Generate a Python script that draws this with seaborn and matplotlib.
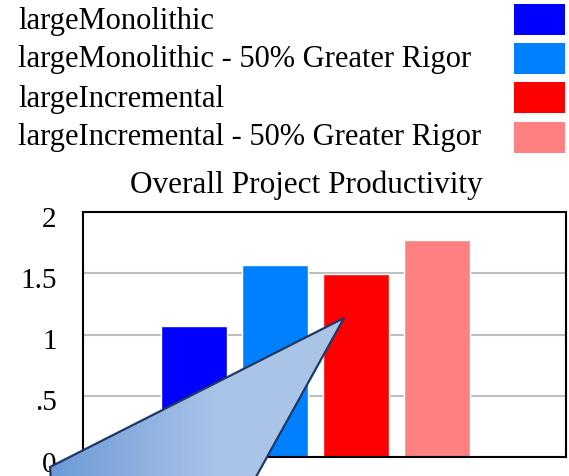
import numpy as np
import pandas as pd
import matplotlib
matplotlib.use("Agg")
import matplotlib.pyplot as plt
from matplotlib.patches import Polygon, Rectangle
from matplotlib.transforms import ScaledTranslation
import seaborn as sns

# Scenario runs and their overall productivity
series = [
    "largeMonolithic",
    "largeMonolithic - 50% Greater Rigor",
    "largeIncremental",
    "largeIncremental - 50% Greater Rigor",
]
productivity = [1.07, 1.57, 1.49, 1.77]
colors = ["#0000ff", "#0080ff", "#ff0000", "#ff8080"]
y_ticks = [0, 0.5, 1, 1.5, 2]
y_tick_labels = ["0", ".5", "1", "1.5", "2"]
title = "Overall Project Productivity"

sns.set_theme(style="white")
plt.rcParams["font.family"] = ["Liberation Serif", "DejaVu Serif"]

W, H = 569, 476
fig = plt.figure(figsize=(W / 100, H / 100), dpi=100)


def fx(px):
    return px / W


def fy(py):
    return 1 - py / H


# Main bar panel
ax = fig.add_axes([fx(83), fy(457), (566 - 83) / W, (457 - 212) / H])
df = pd.DataFrame({"series": series, "productivity": productivity})
sns.barplot(data=df, x="series", y="productivity", hue="series",
            palette=colors, width=0.81, saturation=1, legend=False, ax=ax)
ax.set_xlim(-1.37, 4.59)
ax.set_ylim(0, 2)
ax.set_yticks(y_ticks, y_tick_labels)
ax.set_xticks([])
ax.set_xlabel("")
ax.set_ylabel("")
ax.yaxis.grid(True, color="#bfbfbf", lw=1.5)
ax.set_axisbelow(True)
for s in ax.spines.values():
    s.set_visible(True)
    s.set_color("black")
    s.set_linewidth(1.5)
ax.tick_params(axis="y", length=0, pad=19, labelsize=21, labelcolor="black")
shift = ScaledTranslation(0, -0.045, fig.dpi_scale_trans)
for lab in ax.get_yticklabels():
    lab.set_transform(lab.get_transform() + shift)

# Legend rows: label on the left, colour swatch on the right
for i, (name, c) in enumerate(zip(series, colors)):
    fig.text(fx(18), fy(28.5 + 39 * i), name, fontsize=22,
             va="baseline", ha="left", color="black")
    fig.add_artist(Rectangle((fx(514), fy(35 + 39.2 * i)), 51 / W, 31 / H,
                             transform=fig.transFigure, facecolor=c,
                             edgecolor="none"))

fig.text(fx(306), fy(193), title, ha="center", va="baseline",
         fontsize=22.5, color="black")

# Callout pointer with a left-to-right blue gradient
ov = fig.add_axes([0, 0, 1, 1], facecolor="none")
ov.axis("off")
verts = [(344, 318), (50, 467), (52, 495), (246, 495)]
poly = Polygon(verts, closed=True, facecolor="none", edgecolor="#1f3864",
               lw=1.6, zorder=3)
ov.add_patch(poly)
xs = np.linspace(0, W, 600)
t = np.clip((xs - 50) / 170, 0, 1)
dark = np.array([0.42, 0.60, 0.84])
light = np.array([0.67, 0.77, 0.91])
grad = dark[None, :] * (1 - t[:, None]) + light[None, :] * t[:, None]
img = ov.imshow(grad[None, :, :], extent=(0, W, H + 30, 0),
                aspect="auto", zorder=2)
img.set_clip_path(poly)
ov.set_xlim(0, W)
ov.set_ylim(H, 0)

fig.savefig("out.png", dpi=100)
